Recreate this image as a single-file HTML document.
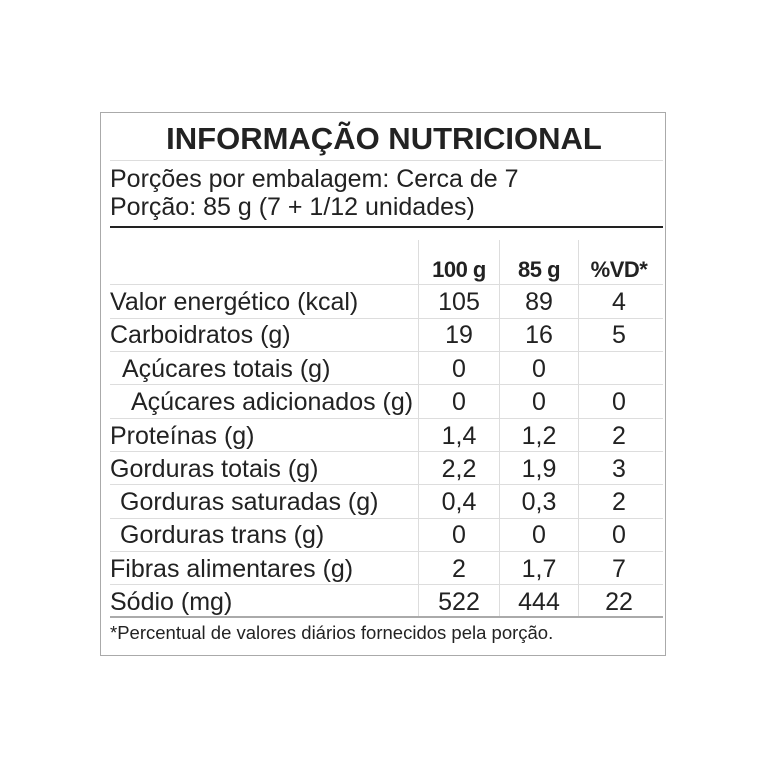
<!DOCTYPE html>
<html><head><meta charset="utf-8"><style>
body{margin:0;width:768px;height:768px;background:#fff;position:relative;font-family:"Liberation Sans",sans-serif;color:#222;overflow:hidden}
.a{position:absolute;white-space:nowrap}
.box{position:absolute;left:100px;top:112px;width:566px;height:544px;border:1px solid #aaa;box-sizing:border-box}
.h{position:absolute;left:110px;width:553px;height:1px;background:#ddd}
.v{position:absolute;top:240px;height:377px;width:1px;background:#ddd}
.r{position:absolute;font-size:25px;line-height:28px;white-space:nowrap}
.c{position:absolute;width:80px;text-align:center;font-size:25px;line-height:28px}
</style></head><body>
<div class="box"></div>
<div class="a" style="left:0;width:768px;text-align:center;top:121px;font-size:31px;font-weight:bold;line-height:36px">INFORMAÇÃO NUTRICIONAL</div>
<div class="h" style="top:160px"></div>
<div class="a" style="left:110px;top:165px;font-size:25px;line-height:28px">Porções por embalagem: Cerca de 7</div>
<div class="a" style="left:110px;top:193px;font-size:25px;line-height:28px">Porção: 85 g (7 + 1/12 unidades)</div>
<div class="a" style="left:110px;top:226px;width:553px;height:2px;background:#222"></div>
<div class="v" style="left:418px"></div>
<div class="v" style="left:499px"></div>
<div class="v" style="left:578px"></div>
<div class="c" style="left:419px;top:256px;font-weight:bold;font-size:22px;letter-spacing:-0.5px">100 g</div>
<div class="c" style="left:499px;top:256px;font-weight:bold;font-size:22px;letter-spacing:-0.5px">85 g</div>
<div class="c" style="left:579px;top:256px;font-weight:bold;font-size:22px;letter-spacing:-0.5px">%VD*</div>
<div class="h" style="top:284px"></div>
<div class="h" style="top:318px"></div>
<div class="h" style="top:351px"></div>
<div class="h" style="top:384px"></div>
<div class="h" style="top:418px"></div>
<div class="h" style="top:451px"></div>
<div class="h" style="top:484px"></div>
<div class="h" style="top:518px"></div>
<div class="h" style="top:551px"></div>
<div class="h" style="top:584px"></div>
<div class="h" style="top:616px;height:2px;background:#aaa"></div>

<div class="r" style="left:110px;top:288px">Valor energético (kcal)</div><div class="c" style="left:419px;top:288px">105</div><div class="c" style="left:499px;top:288px">89</div><div class="c" style="left:579px;top:288px">4</div>
<div class="r" style="left:110px;top:321px">Carboidratos (g)</div><div class="c" style="left:419px;top:321px">19</div><div class="c" style="left:499px;top:321px">16</div><div class="c" style="left:579px;top:321px">5</div>
<div class="r" style="left:122px;top:355px">Açúcares totais (g)</div><div class="c" style="left:419px;top:355px">0</div><div class="c" style="left:499px;top:355px">0</div>
<div class="r" style="left:131px;top:388px">Açúcares adicionados (g)</div><div class="c" style="left:419px;top:388px">0</div><div class="c" style="left:499px;top:388px">0</div><div class="c" style="left:579px;top:388px">0</div>
<div class="r" style="left:110px;top:422px">Proteínas (g)</div><div class="c" style="left:419px;top:422px">1,4</div><div class="c" style="left:499px;top:422px">1,2</div><div class="c" style="left:579px;top:422px">2</div>
<div class="r" style="left:110px;top:455px">Gorduras totais (g)</div><div class="c" style="left:419px;top:455px">2,2</div><div class="c" style="left:499px;top:455px">1,9</div><div class="c" style="left:579px;top:455px">3</div>
<div class="r" style="left:120px;top:488px">Gorduras saturadas (g)</div><div class="c" style="left:419px;top:488px">0,4</div><div class="c" style="left:499px;top:488px">0,3</div><div class="c" style="left:579px;top:488px">2</div>
<div class="r" style="left:120px;top:521px">Gorduras trans (g)</div><div class="c" style="left:419px;top:521px">0</div><div class="c" style="left:499px;top:521px">0</div><div class="c" style="left:579px;top:521px">0</div>
<div class="r" style="left:110px;top:555px">Fibras alimentares (g)</div><div class="c" style="left:419px;top:555px">2</div><div class="c" style="left:499px;top:555px">1,7</div><div class="c" style="left:579px;top:555px">7</div>
<div class="r" style="left:110px;top:588px">Sódio (mg)</div><div class="c" style="left:419px;top:588px">522</div><div class="c" style="left:499px;top:588px">444</div><div class="c" style="left:579px;top:588px">22</div>
<div class="a" style="left:110px;top:622px;font-size:18.5px;line-height:22px">*Percentual de valores diários fornecidos pela porção.</div>
</body></html>
